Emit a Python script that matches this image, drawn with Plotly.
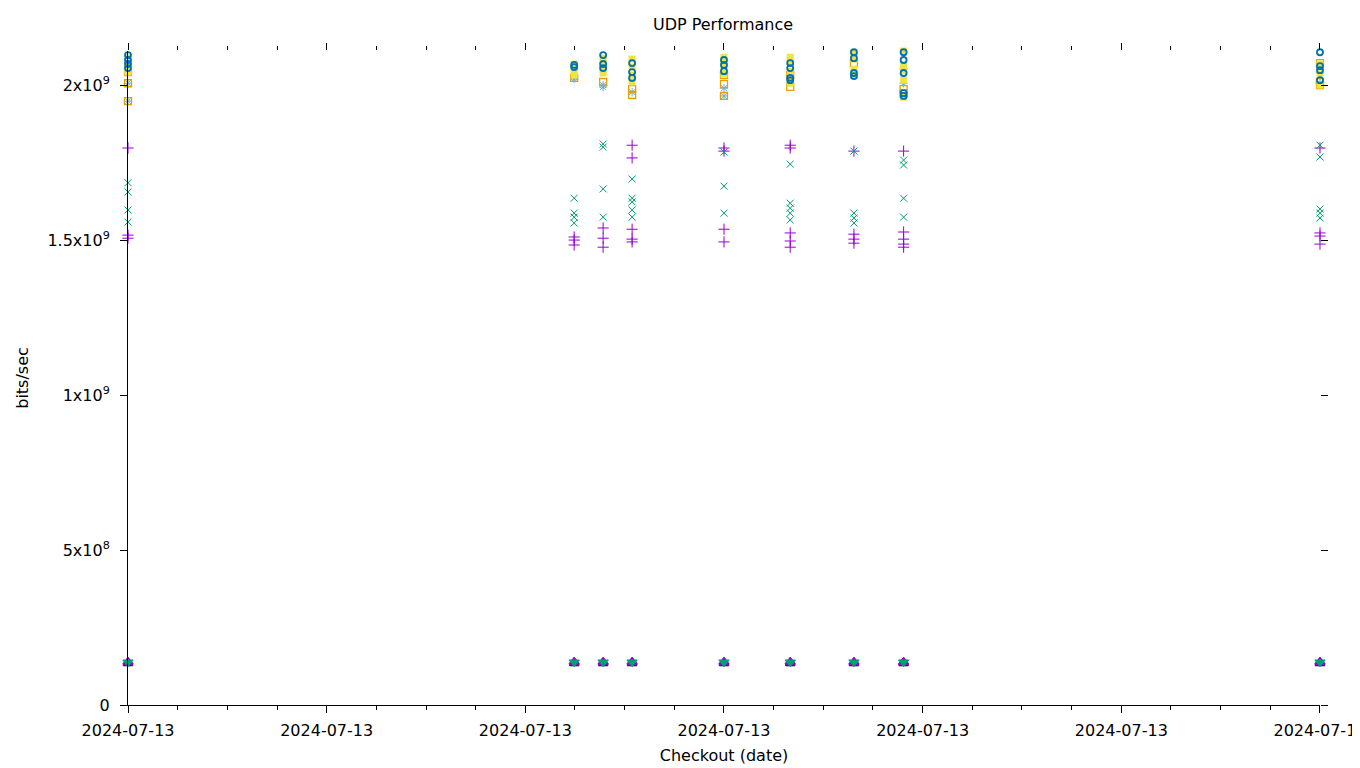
import plotly.graph_objects as go

# ---- data (values in units of 1e9 bits/sec) ----
times = ["2024-07-13 00:00:00", "2024-07-13 08:59:00", "2024-07-13 09:34:00",
         "2024-07-13 10:09:00", "2024-07-13 12:00:00", "2024-07-13 13:20:00",
         "2024-07-13 14:37:00", "2024-07-13 15:37:00", "2024-07-14 00:00:00"]

purple_plus = [[1.797, 1.516, 1.506], [1.510, 1.500, 1.484], [1.539, 1.506, 1.477],
               [1.806, 1.765, 1.535, 1.503, 1.494], [1.797, 1.787, 1.535, 1.494],
               [1.806, 1.797, 1.523, 1.497, 1.477], [1.787, 1.519, 1.503, 1.490],
               [1.787, 1.526, 1.503, 1.487, 1.477], [1.797, 1.523, 1.513, 1.487]]
green_x = [[1.685, 1.655, 1.597, 1.558], [1.635, 1.587, 1.574, 1.555],
           [1.810, 1.800, 1.665, 1.574], [1.697, 1.635, 1.623, 1.597, 1.574],
           [1.784, 1.674, 1.587], [1.745, 1.619, 1.603, 1.587, 1.565],
           [1.787, 1.587, 1.571, 1.555], [1.758, 1.742, 1.635, 1.574],
           [1.806, 1.768, 1.600, 1.587, 1.571]]
lightblue_star = [[2.006, 1.948], [2.026, 2.020], [2.000, 1.994], [1.977],
                  [2.039, 1.990, 1.965], [2.020], [2.035], [2.052, 2.006], [2.039, 2.006]]
orange_square = [[2.006, 1.948, 2.042], [2.023], [2.010], [1.987, 1.968],
                 [2.032, 2.003, 1.965], [2.032, 1.994], [2.071], [1.987, 1.974],
                 [2.071, 2.010, 2.000]]
yellow_square = [[2.090, 2.074, 2.062, 2.048, 2.042], [2.068, 2.055, 2.042, 2.032],
                 [2.087, 2.074, 2.062, 2.048, 2.039], [2.084, 2.058, 2.032, 2.010],
                 [2.090, 2.074, 2.055, 2.035], [2.090, 2.077, 2.045, 2.006],
                 [2.103, 2.084, 2.052, 2.032], [2.110, 2.065, 2.048, 2.016, 1.961],
                 [2.113, 2.068, 2.039, 2.000]]
blue_circle = [[2.097, 2.081, 2.068, 2.055], [2.065, 2.058], [2.097, 2.068, 2.055],
               [2.071, 2.042, 2.023], [2.081, 2.065, 2.045], [2.071, 2.055, 2.023, 2.016],
               [2.106, 2.087, 2.039, 2.029], [2.106, 2.081, 2.039, 1.974, 1.965],
               [2.106, 2.061, 2.048, 2.016]]
black_low = [[0.133]] * 9
purple_low = [[0.140, 0.136]] * 9
green_low = [[0.138]] * 9

ytick_vals = [0, 5e8, 1e9, 1.5e9, 2e9]
ytick_text = ["0", "5x10<sup>8</sup>", "1x10<sup>9</sup>", "1.5x10<sup>9</sup>", "2x10<sup>9</sup>"]

x_range = ["2024-07-13 00:00:00", "2024-07-14 00:00:01"]
y_range = [0, 2.11e9]


def expand(series):
    xs, ys = [], []
    for t, vals in zip(times, series):
        for v in vals:
            xs.append(t)
            ys.append(v * 1e9)
    return xs, ys


styles = [
    (black_low, "triangle-up", "#000000", 8, 1),
    (purple_low, "triangle-up", "#9400d3", 9, 1),
    (green_low, "triangle-down", "#009e73", 9, 1),
    (purple_plus, "cross-thin-open", "#9400d3", 8, 1),
    (green_x, "x-thin-open", "#009e73", 7, 1),
    (lightblue_star, "asterisk-open", "#56b4e9", 7, 1),
    (orange_square, "square-open", "#e69f00", 7, 1.3),
    (yellow_square, "square", "#f0e442", 7, 0),
    (blue_circle, "circle-open", "#0072b2", 6, 1.8),
]

fig = go.Figure()
for series, sym, col, size, lw in styles:
    xs, ys = expand(series)
    fig.add_trace(go.Scatter(
        x=xs, y=ys, mode="markers", showlegend=False, cliponaxis=False,
        marker=dict(symbol=sym, size=size, color=col,
                    line=dict(color=col, width=lw)),
    ))

# dummy trace to host mirrored axes
fig.add_trace(go.Scatter(x=[], y=[], xaxis="x2", yaxis="y2", showlegend=False))

font = dict(family="DejaVu Sans", size=16, color="#000000")

W, H = 1352, 760

fig.update_layout(
    width=W, height=H,
    paper_bgcolor="white", plot_bgcolor="white",
    margin=dict(l=120, r=40, t=43, b=63),
    font=font,
    title=dict(text="UDP Performance", x=715 / W, xanchor="center",
               xref="container", yref="container", y=1 - 16 / H, yanchor="middle",
               font=dict(family="DejaVu Sans", size=16)),
    xaxis=dict(
        type="date", range=x_range, tickformat="%Y-%m-%d",
        tick0="2024-07-13", dtick=4 * 3600 * 1000, automargin=False,
        ticklabeloverflow="allow", ticklabelstandoff=4,
        ticks="outside", ticklen=7, tickwidth=1, tickcolor="black",
        tickfont=dict(family="DejaVu Sans", size=16),
        minor=dict(ticks="outside", ticklen=4, tickwidth=1, tickcolor="black",
                   dtick=3600 * 1000, showgrid=False),
        showline=True, linecolor="black", linewidth=1,
        showgrid=False, zeroline=False,
        title=dict(text="Checkout (date)", standoff=10,
                   font=dict(family="DejaVu Sans", size=16)),
    ),
    yaxis=dict(
        range=y_range, tickvals=ytick_vals, ticktext=ytick_text, automargin=False,
        ticklabelstandoff=7,
        ticks="outside", ticklen=7, tickwidth=1, tickcolor="black",
        tickfont=dict(family="DejaVu Sans", size=16),
        showline=True, linecolor="black", linewidth=1,
        showgrid=False, zeroline=False,
        title=dict(text="bits/sec", standoff=14,
                   font=dict(family="DejaVu Sans", size=16)),
    ),
    xaxis2=dict(
        type="date", overlaying="x", side="top", range=x_range, automargin=False,
        tick0="2024-07-13", dtick=4 * 3600 * 1000,
        ticks="outside", ticklen=7, tickwidth=1, tickcolor="black",
        minor=dict(ticks="outside", ticklen=4, tickwidth=1, tickcolor="black",
                   dtick=3600 * 1000, showgrid=False),
        showticklabels=False, showline=False, showgrid=False, zeroline=False,
    ),
    yaxis2=dict(
        overlaying="y", side="right", range=y_range, tickvals=ytick_vals, automargin=False,
        ticks="outside", ticklen=7, tickwidth=1, tickcolor="black",
        showticklabels=False, showline=False, showgrid=False, zeroline=False,
    ),
)

fig.write_html("out.html")
